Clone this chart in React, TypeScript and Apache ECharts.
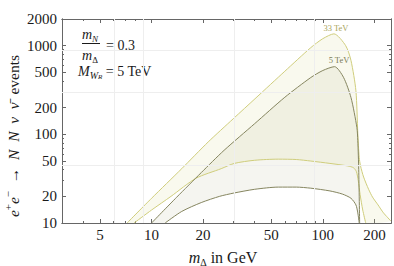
import React, { useEffect, useRef } from "react";
import * as echarts from "echarts";

// ---- data (m_Delta in GeV, events) ----
const mass33Upper = [7.2, 10, 15, 21.4, 30, 40.7, 60, 85, 100, 116, 136, 146, 156, 160, 163, 166, 173, 185, 195, 210, 226, 250];
const ev33Upper = [10, 19, 41, 82, 150, 258, 515, 950, 1200, 1360, 1000, 680, 310, 103, 55, 44, 33, 24, 19.6, 16, 13, 10.5];

const mass33Lower = [7.9, 10, 13, 18.2, 25.5, 30.4, 40, 55, 70, 85, 110, 140, 151, 157, 161, 165, 171, 178];
const ev33Lower = [10, 14, 20, 32, 41, 47, 51, 52.5, 52, 50, 47, 44, 42, 38, 30, 21, 14, 10];

const mass5Upper = [10, 14, 19.5, 26.5, 40, 60, 85, 100, 117, 132, 146, 158, 160, 162, 164];
const ev5Upper = [10, 19.5, 37, 66, 132, 262, 437, 525, 580, 440, 260, 120, 85, 40, 10];

const mass5Lower = [12, 15, 19.5, 25, 30, 40, 55, 70, 85, 110, 130, 146, 156, 160, 163];
const ev5Lower = [10, 13.5, 17, 20, 21.7, 24, 25.4, 25.4, 24.7, 23, 21.2, 19, 16, 13, 10];

const xMajorTicks = [5, 10, 20, 50, 100, 200];
const xMinorTicks = [3, 4, 6, 7, 8, 9, 30, 40, 60, 70, 80, 90];
const yMajorTicks = [10, 20, 50, 100, 200, 500, 1000, 2000];
const yMinorTicks = [30, 40, 60, 70, 80, 90, 300, 400, 600, 700, 800, 900];
const xGridValues = [6, 9, 30, 90];
const yGridValues = [45, 300, 900];

const X_LOW = 3;
const X_HIGH = 250;
const Y_LOW = 10;
const Y_HIGH = 2000;

const lg = Math.log10;
const toPts = (ms: number[], vs: number[]) => ms.map((m, i) => [lg(m), lg(vs[i])]);

const SERIF = '"Liberation Serif", "DejaVu Serif", serif';
const FRAME = "#666";
const TEXT = "#1a1a1a";
const YELLOW = "#cfcd7c";
const OLIVE = "#85855f";

export default function App() {
  const ref = useRef<HTMLDivElement>(null);

  useEffect(() => {
    if (!ref.current) return;
    const chart = echarts.init(ref.current, undefined, { renderer: "svg" });

    const xMin = lg(X_LOW), xMax = lg(X_HIGH), yMin = lg(Y_LOW), yMax = lg(Y_HIGH);
    const fmt = (v: number) => String(Math.round(Math.pow(10, v)));

    const xAxis = (position: string, ticks: number[], len: number, labels: boolean) => ({
      type: "value",
      min: xMin,
      max: xMax,
      position,
      axisLine: { show: true, onZero: false, lineStyle: { color: FRAME, width: 1 } },
      axisTick: { show: true, inside: true, length: len, customValues: ticks.map(lg), lineStyle: { color: FRAME, width: 1 } },
      axisLabel: labels
        ? { show: true, customValues: ticks.map(lg), formatter: fmt, color: TEXT, fontFamily: SERIF, fontSize: 15, margin: 4 }
        : { show: false },
      splitLine: { show: false },
    });
    const yAxis = (position: string, ticks: number[], len: number, labels: boolean) => ({
      type: "value",
      min: yMin,
      max: yMax,
      position,
      axisLine: { show: true, onZero: false, lineStyle: { color: FRAME, width: 1 } },
      axisTick: { show: true, inside: true, length: len, customValues: ticks.map(lg), lineStyle: { color: FRAME, width: 1 } },
      axisLabel: labels
        ? { show: true, customValues: ticks.map(lg), formatter: fmt, color: TEXT, fontFamily: SERIF, fontSize: 15, margin: 5 }
        : { show: false },
      splitLine: { show: false },
    });

    const band33 = [...toPts(mass33Upper, ev33Upper), ...toPts(mass33Lower, ev33Lower).reverse()];
    const band5 = [...toPts(mass5Upper, ev5Upper), ...toPts(mass5Lower, ev5Lower).reverse()];

    const fillSeries = (pts: number[][], color: string) => ({
      type: "custom",
      xAxisIndex: 0,
      yAxisIndex: 0,
      clip: true,
      silent: true,
      z: 2,
      data: [[xMin, yMin]],
      renderItem: (_p: any, api: any) => ({
        type: "polygon",
        shape: { points: pts.map((p) => api.coord(p)), smooth: 0.2 },
        style: { fill: color, stroke: "none" },
      }),
    });

    const lineSeries = (ms: number[], vs: number[], color: string) => ({
      type: "line",
      xAxisIndex: 0,
      yAxisIndex: 0,
      data: toPts(ms, vs),
      showSymbol: false,
      smooth: 0.25,
      clip: true,
      silent: true,
      z: 3,
      lineStyle: { color, width: 1 },
    });

    const option: any = {
      animation: false,
      backgroundColor: "#fff",
      grid: { left: 62, right: 3, top: 19, bottom: 43, containLabel: false },
      xAxis: [
        xAxis("bottom", xMajorTicks, 4, true),
        xAxis("bottom", xMinorTicks, 2, false),
        xAxis("top", xMajorTicks, 4, false),
        xAxis("top", xMinorTicks, 2, false),
      ],
      yAxis: [
        yAxis("left", yMajorTicks, 4, true),
        yAxis("left", yMinorTicks, 2, false),
        yAxis("right", yMajorTicks, 4, false),
        yAxis("right", yMinorTicks, 2, false),
      ],
      series: [
        {
          type: "line",
          xAxisIndex: 0,
          yAxisIndex: 0,
          data: [[xMin, yMin]],
          showSymbol: false,
          lineStyle: { opacity: 0 },
          silent: true,
          z: 1,
          markLine: {
            silent: true,
            symbol: ["none", "none"],
            label: { show: false },
            lineStyle: { color: "#eeeeee", type: "solid", width: 1 },
            data: [
              ...xGridValues.map((v) => ({ xAxis: lg(v) })),
              ...yGridValues.map((v) => ({ yAxis: lg(v) })),
            ],
          },
        },
        fillSeries(band33, "rgba(215,215,150,0.16)"),
        fillSeries(band5, "rgba(190,190,160,0.16)"),
        lineSeries(mass33Upper, ev33Upper, YELLOW),
        lineSeries(mass33Lower, ev33Lower, YELLOW),
        lineSeries(mass5Upper, ev5Upper, OLIVE),
        lineSeries(mass5Lower, ev5Lower, OLIVE),
      ],
      graphic: [
        // x axis title
        {
          type: "text",
          x: 223,
          y: 257,
          style: {
            text: "{i|m}{s|Δ}{n| in GeV}",
            align: "center",
            verticalAlign: "middle",
            textAlign: "center",
            textVerticalAlign: "middle",
            fill: TEXT,
            rich: {
              i: { fontFamily: SERIF, fontStyle: "italic", fontSize: 16, lineHeight: 20, fill: TEXT },
              s: { fontFamily: SERIF, fontSize: 10, lineHeight: 10, verticalAlign: "bottom", fill: TEXT },
              n: { fontFamily: SERIF, fontSize: 16, lineHeight: 20, fill: TEXT },
            },
          },
        },
        // y axis title
        {
          type: "text",
          x: 13,
          y: 136,
          rotation: Math.PI / 2,
          style: {
            text: "{i|e}{p|+}{i|e}{p|−}{n|\u2002→\u2002}{i|N}{n|\u2002}{i|N}{n|\u2002}{i|ν}{n|\u2002}{i|ν\u0304}{n|\u2002events}",
            align: "center",
            verticalAlign: "middle",
            textAlign: "center",
            textVerticalAlign: "middle",
            fill: TEXT,
            rich: {
              i: { fontFamily: SERIF, fontStyle: "italic", fontSize: 15.5, lineHeight: 21, fill: TEXT },
              p: { fontFamily: SERIF, fontSize: 11, lineHeight: 12, verticalAlign: "top", fill: TEXT },
              n: { fontFamily: SERIF, fontSize: 15.5, lineHeight: 21, fill: TEXT },
            },
          },
        },
        // fraction m_N / m_Delta = 0.3
        {
          type: "text",
          x: 90,
          y: 34,
          style: {
            text: "{i|m}{s|N}",
            align: "center",
            verticalAlign: "middle",
            textAlign: "center",
            textVerticalAlign: "middle",
            rich: {
              i: { fontFamily: SERIF, fontStyle: "italic", fontSize: 14, lineHeight: 18, fill: TEXT },
              s: { fontFamily: SERIF, fontStyle: "italic", fontSize: 9, lineHeight: 9, verticalAlign: "bottom", fill: TEXT },
            },
          },
        },
        {
          type: "line",
          shape: { x1: 82, y1: 43.5, x2: 100, y2: 43.5 },
          style: { stroke: TEXT, lineWidth: 1 },
        },
        {
          type: "text",
          x: 90,
          y: 55,
          style: {
            text: "{i|m}{s|Δ}",
            align: "center",
            verticalAlign: "middle",
            textAlign: "center",
            textVerticalAlign: "middle",
            rich: {
              i: { fontFamily: SERIF, fontStyle: "italic", fontSize: 14, lineHeight: 18, fill: TEXT },
              s: { fontFamily: SERIF, fontSize: 9, lineHeight: 9, verticalAlign: "bottom", fill: TEXT },
            },
          },
        },
        {
          type: "text",
          x: 106,
          y: 45,
          style: {
            text: "= 0.3",
            font: `14px ${SERIF}`,
            fill: TEXT,
            align: "left",
            verticalAlign: "middle",
            textAlign: "left",
            textVerticalAlign: "middle",
          },
        },
        // M_{W_R} = 5 TeV
        {
          type: "text",
          x: 78,
          y: 71,
          style: {
            text: "{i|M}{s|W}{t|R}{n| = 5 TeV}",
            align: "left",
            verticalAlign: "middle",
            textAlign: "left",
            textVerticalAlign: "middle",
            rich: {
              i: { fontFamily: SERIF, fontStyle: "italic", fontSize: 14, lineHeight: 18, fill: TEXT },
              s: { fontFamily: SERIF, fontStyle: "italic", fontSize: 10, lineHeight: 11, verticalAlign: "bottom", fill: TEXT },
              t: { fontFamily: SERIF, fontStyle: "italic", fontSize: 7, lineHeight: 7, verticalAlign: "bottom", fill: TEXT },
              n: { fontFamily: SERIF, fontSize: 14, lineHeight: 18, fill: TEXT },
            },
          },
        },
        // curve labels
        {
          type: "text",
          x: 336,
          y: 28,
          style: {
            text: "33 TeV",
            font: `8.5px ${SERIF}`,
            fill: "#aaa55a",
            align: "center",
            verticalAlign: "middle",
            textAlign: "center",
            textVerticalAlign: "middle",
          },
        },
        {
          type: "text",
          x: 339,
          y: 60,
          style: {
            text: "5 TeV",
            font: `8.5px ${SERIF}`,
            fill: "#6a6a4a",
            align: "center",
            verticalAlign: "middle",
            textAlign: "center",
            textVerticalAlign: "middle",
          },
        },
      ],
    };

    chart.setOption(option);
    return () => chart.dispose();
  }, []);

  return <div ref={ref} style={{ position: "fixed", left: 0, top: 0, width: 394, height: 266 }} />;
}
